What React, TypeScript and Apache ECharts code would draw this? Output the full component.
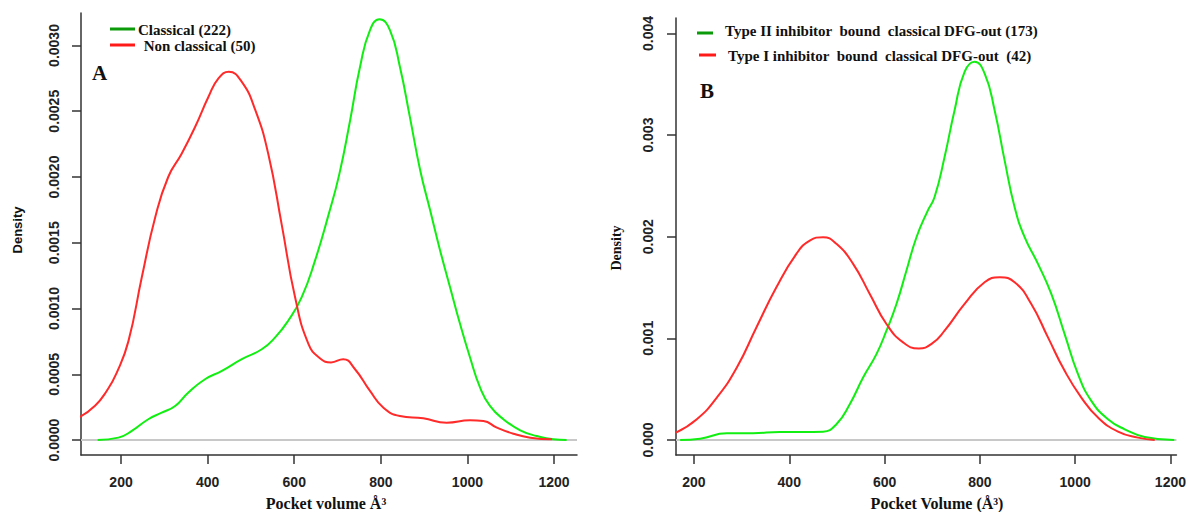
import React, { useEffect, useRef } from "react";
import * as echarts from "echarts";

// Panel A: Classical vs Non classical
const classicalA: [number, number][] = [
  [146, 0], [194, 0.000018], [225, 0.000069], [263, 0.000158], [294, 0.000208], [325, 0.000259],
  [355, 0.00036], [394, 0.000462], [433, 0.000526], [479, 0.000615], [525, 0.00069], [556, 0.00078],
  [586, 0.000907], [617, 0.001085], [648, 0.001364], [679, 0.00171], [704, 0.00202], [729, 0.00243],
  [752, 0.002838], [775, 0.003117], [797, 0.0032], [821, 0.003117], [844, 0.002838], [867, 0.002457],
  [891, 0.00205], [914, 0.001745], [937, 0.00144], [960, 0.00116], [983, 0.000882], [1006, 0.000627],
  [1029, 0.0004], [1052, 0.000259], [1083, 0.000158], [1122, 0.000074], [1160, 0.00003], [1198, 0.000005],
  [1229, 0],
];
const nonClassicalA: [number, number][] = [
  [105, 0.000175], [140, 0.00026], [167, 0.000373], [190, 0.00051], [217, 0.00075], [248, 0.001237], [279, 0.001694],
  [309, 0.002], [340, 0.002177], [371, 0.00238], [402, 0.00261], [425, 0.00275], [449, 0.0028],
  [479, 0.002723], [510, 0.00251], [540, 0.002177], [571, 0.00164], [602, 0.001085], [633, 0.00073],
  [660, 0.00062], [685, 0.00059], [713, 0.000615], [740, 0.00054], [775, 0.000373], [806, 0.000246],
  [844, 0.000183], [898, 0.000165], [952, 0.000132], [1006, 0.00015], [1037, 0.000145], [1068, 0.000094],
  [1106, 0.000048], [1145, 0.000018], [1195, 0.000005],
];

// Panel B: Type II vs Type I inhibitor bound classical DFG-out
const typeIIB: [number, number][] = [
  [171, 0], [213, 0.000013], [269, 0.000066], [324, 0.000066], [380, 0.000079], [429, 0.000079],
  [471, 0.000082], [499, 0.000155], [527, 0.000352], [555, 0.000614], [583, 0.000845], [604, 0.001075],
  [625, 0.001338], [646, 0.001667], [667, 0.001995], [690, 0.00225], [705, 0.00239], [726, 0.002784],
  [747, 0.003245], [768, 0.003622], [789, 0.003721], [810, 0.003606], [831, 0.003245], [852, 0.002751],
  [873, 0.002291], [894, 0.001995], [922, 0.001733], [950, 0.001437], [978, 0.001042], [1006, 0.000648],
  [1034, 0.000385], [1069, 0.000204], [1104, 0.000105], [1146, 0.00003], [1208, 0],
];
const typeIB: [number, number][] = [
  [162, 0.000072], [206, 0.000204], [248, 0.000417], [290, 0.000713], [331, 0.001107], [373, 0.001502],
  [415, 0.001831], [443, 0.001962], [471, 0.001995], [499, 0.00193], [534, 0.001733], [569, 0.001437],
  [604, 0.001141], [639, 0.00096], [672, 0.0009], [700, 0.00095], [726, 0.001075], [768, 0.001338],
  [810, 0.001552], [842, 0.0016], [873, 0.001552], [908, 0.001338], [943, 0.001009], [978, 0.00068],
  [1013, 0.000417], [1048, 0.00022], [1090, 0.000082], [1132, 0.000023], [1167, 0],
];

const xTicks = [200, 400, 600, 800, 1000, 1200];
const yTicksA = [0, 0.0005, 0.001, 0.0015, 0.002, 0.0025, 0.003];
const yTicksB = [0, 0.001, 0.002, 0.003, 0.004];

const legendA = ["Classical (222)", " Non classical (50)"];
const legendB = [
  "Type II inhibitor  bound  classical DFG-out (173)",
  "Type I inhibitor  bound  classical DFG-out  (42)",
];

const GREEN = "#11ee11";
const RED = "#ff2a2a";
const AXIS = "#333";
const SANS = "'Liberation Sans', Arial, sans-serif";
const SERIF = "'Liberation Serif', 'Times New Roman', serif";

function xAxisCfg(gridIndex: number, min: number, max: number) {
  return {
    type: "value",
    gridIndex,
    min,
    max,
    splitLine: { show: false },
    axisLine: { show: true, onZero: false, lineStyle: { color: AXIS, width: 1.5 } },
    axisTick: { show: true, length: 9, customValues: xTicks, lineStyle: { color: AXIS, width: 1.5 } },
    axisLabel: {
      customValues: xTicks,
      margin: 20,
      fontFamily: SANS,
      fontSize: 14,
      fontWeight: "bold",
      color: "#222",
      formatter: (v: number) => String(v),
    },
  };
}

function yAxisCfg(gridIndex: number, min: number, max: number, ticks: number[], digits: number, margin: number) {
  return {
    type: "value",
    gridIndex,
    min,
    max,
    splitLine: { show: false },
    axisLine: { show: true, onZero: false, lineStyle: { color: AXIS, width: 1.5 } },
    axisTick: { show: true, length: 9, customValues: ticks, lineStyle: { color: AXIS, width: 1.5 } },
    axisLabel: {
      customValues: ticks,
      rotate: 90,
      margin,
      fontFamily: SANS,
      fontSize: 14,
      fontWeight: "bold",
      color: "#222",
      formatter: (v: number) => v.toFixed(digits),
    },
  };
}

function lineSeries(name: string, data: [number, number][], color: string, idx: number, zero: boolean) {
  const s: any = {
    name,
    type: "line",
    xAxisIndex: idx,
    yAxisIndex: idx,
    data,
    smooth: 0.5,
    showSymbol: false,
    clip: true,
    lineStyle: { color, width: 2 },
    z: 3,
  };
  if (zero) {
    s.markLine = {
      silent: true,
      symbol: "none",
      label: { show: false },
      lineStyle: { color: "#c8c8c8", width: 2, type: "solid" },
      data: [{ yAxis: 0 }],
      z: 1,
    };
  }
  return s;
}

export default function App() {
  const ref = useRef<HTMLDivElement>(null);
  useEffect(() => {
    if (!ref.current) return;
    const chart = echarts.init(ref.current, undefined, { renderer: "svg" });
    const legText = (x: number, y: number, text: string) => ({
      type: "text",
      x,
      y,
      style: {
        text,
        font: `bold 15px ${SERIF}`,
        fill: "#111",
        verticalAlign: "middle",
      },
    });
    const legLine = (x1: number, x2: number, y: number, color: string) => ({
      type: "line",
      shape: { x1, y1: y, x2, y2: y },
      style: { stroke: color, lineWidth: 3 },
    });
    chart.setOption({
      animation: false,
      backgroundColor: "#fff",
      grid: [
        { left: 81, right: 612, top: 13, bottom: 57 },
        { left: 676, right: 12, top: 18, bottom: 57 },
      ],
      xAxis: [xAxisCfg(0, 107.6, 1253), xAxisCfg(1, 162.3, 1212.6)],
      yAxis: [
        yAxisCfg(0, -0.000114, 0.003247, yTicksA, 4, 20),
        yAxisCfg(1, -0.000148, 0.004152, yTicksB, 3, 21),
      ],
      series: [
        lineSeries(legendA[0], classicalA, GREEN, 0, true),
        lineSeries(legendA[1], nonClassicalA, RED, 0, false),
        lineSeries(legendB[0], typeIIB, GREEN, 1, true),
        lineSeries(legendB[1], typeIB, RED, 1, false),
      ],
      graphic: [
        legLine(110, 135, 29, "#0a9a0a"),
        legLine(110, 135, 45, "#ff1a1a"),
        legText(138, 30, legendA[0]),
        legText(140, 46, legendA[1]),
        legLine(697, 713, 33, "#0a9a0a"),
        legLine(699, 716, 55, "#ff1a1a"),
        legText(725, 31, legendB[0]),
        legText(728, 56, legendB[1]),
        {
          type: "text", x: 92, y: 73,
          style: { text: "A", font: `bold 21px ${SERIF}`, fill: "#111", verticalAlign: "middle" },
        },
        {
          type: "text", x: 700, y: 91,
          style: { text: "B", font: `bold 21px ${SERIF}`, fill: "#111", verticalAlign: "middle" },
        },
        {
          type: "text", x: 17, y: 230, rotation: Math.PI / 2,
          style: { text: "Density", font: `bold 13px ${SANS}`, fill: "#111", align: "center", verticalAlign: "middle" },
        },
        {
          type: "text", x: 616, y: 248, rotation: Math.PI / 2,
          style: { text: "Density", font: `bold 14px ${SERIF}`, fill: "#111", align: "center", verticalAlign: "middle" },
        },
        {
          type: "text", x: 326, y: 503,
          style: { text: "Pocket volume Å³", font: `bold 16px ${SERIF}`, fill: "#111", align: "center", verticalAlign: "middle" },
        },
        {
          type: "text", x: 937, y: 503,
          style: { text: "Pocket Volume (Å³)", font: `bold 16px ${SERIF}`, fill: "#111", align: "center", verticalAlign: "middle" },
        },
      ],
    });
    return () => chart.dispose();
  }, []);
  return (
    <div
      ref={ref}
      style={{ position: "fixed", left: 0, top: 0, width: 1189, height: 512, background: "#fff" }}
    />
  );
}
